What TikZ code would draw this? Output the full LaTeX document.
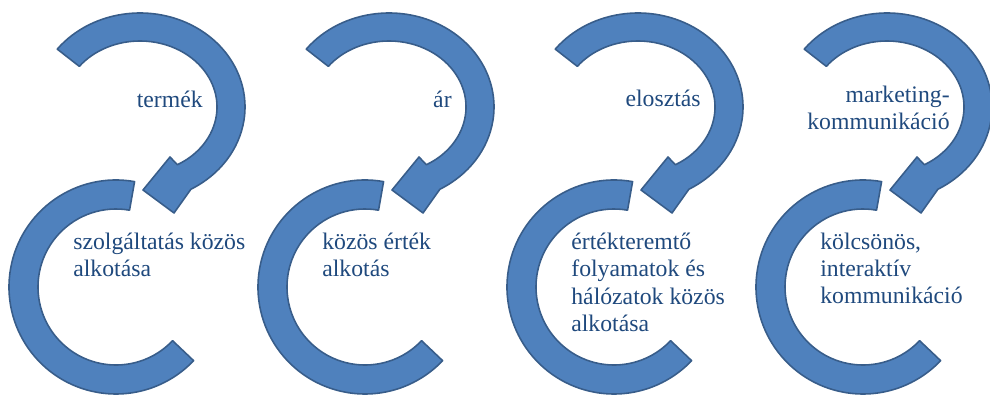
\documentclass[tikz,border=0pt]{standalone}
\usepackage{fontspec}
\setmainfont{Liberation Serif}
\definecolor{arcfill}{HTML}{4F81BD}
\definecolor{arcline}{HTML}{385D8A}
\definecolor{txtblue}{HTML}{1F497D}

\begin{document}
\begin{tikzpicture}[x=0.02cm,y=-0.02cm,
  band/.style={fill=arcfill,draw=arcline,line width=0.9pt,line join=round},
  lbl/.style={text=txtblue,font=\fontsize{13.5}{15.6}\selectfont,inner sep=0pt}]
\useasboundingbox (0,0) rectangle (990,398);
\foreach \dx in {0,249,498,747}{
\draw[band,shift={(\dx,0)}] ([shift={(218:105 and 94)}]140,107) arc[start angle=218,end angle=421,x radius=105,y radius=94]
  -- (174,213) -- (143,190) -- (170,157) -- ([shift={(421:77 and 66)}]140,107)
  arc[start angle=421,end angle=218,x radius=77,y radius=66] -- cycle;
\draw[band,shift={(\dx,0)}] ([shift={(280:107)}]116,287) arc[start angle=280,end angle=43.5,radius=107]
  -- ([shift={(43.5:78)}]116,287) arc[start angle=43.5,end angle=280,radius=78] -- cycle;
}
\node[lbl,anchor=base east] (top1) at (203,108) {termék};
\node[lbl,anchor=base east] (top2) at (452,108) {ár};
\node[lbl,anchor=base east] (top3) at (701,107) {elosztás};
\node[lbl,anchor=base east,align=right] (top4) at (950,130) {marketing-\\kommunikáció};
\node[lbl,anchor=base west,align=left] (bot1) at (73,276.5) {szolgáltatás közös\\alkotása};
\node[lbl,anchor=base west,align=left] (bot2) at (322,276.5) {közös érték\\alkotás};
\node[lbl,anchor=base west,align=left] (bot3) at (571,331.5) {értékteremtő\\folyamatok és\\hálózatok közös\\alkotása};
\node[lbl,anchor=base west,align=left] (bot4) at (820,304) {kölcsönös,\\interaktív\\kommunikáció};
\end{tikzpicture}
\end{document}
